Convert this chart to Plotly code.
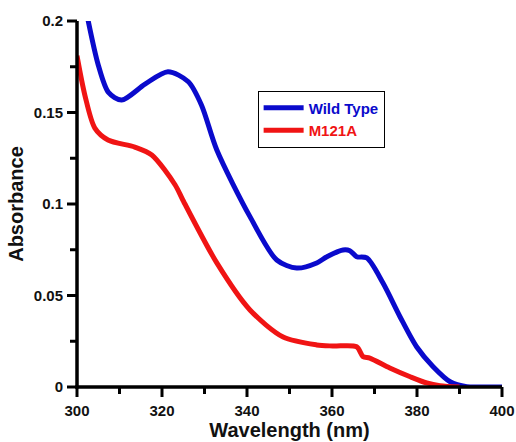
import plotly.graph_objects as go

# ---- data ----
wt_nm = [302.5, 305.0, 307.4, 310.5, 316.0, 321.4, 326.2, 329.3, 332.9, 340.7, 347.0,
         351.7, 356.4, 358.8, 362.6, 364.2, 365.8, 368.2, 372.0, 376.0, 379.9, 383.8,
         387.8, 391.7, 394.8, 400.0]
wt_abs = [0.2016, 0.176, 0.161, 0.1568, 0.1655, 0.1723, 0.1668, 0.154, 0.1295, 0.0931, 0.0694,
          0.065, 0.0678, 0.0712, 0.0749, 0.0745, 0.0712, 0.0705, 0.0568, 0.0384, 0.022, 0.0111,
          0.0029, 0.0002, 0.0, 0.0]

m_nm = [300.0, 301.9, 304.2, 307.3, 313.6, 317.6, 323.1, 324.9, 332.9, 340.7,
        348.5, 356.4, 360.2, 365.8, 367.3, 368.9, 373.6, 378.4, 382.3, 385.4, 390.0]
m_abs = [0.181, 0.159, 0.1415, 0.135, 0.1311, 0.1268, 0.1104, 0.1022, 0.0678, 0.0421,
         0.0273, 0.023, 0.0224, 0.022, 0.0166, 0.0158, 0.0104, 0.0056, 0.0022, 0.0007, 0.0]

x_range = [300, 400]
y_range = [0, 0.2]
x_major = [300, 320, 340, 360, 380, 400]
x_minor = [310, 330, 350, 370, 390]
y_major = [0, 0.05, 0.1, 0.15, 0.2]
y_labels = ["0", "0.05", "0.1", "0.15", "0.2"]
y_minor = [0.025, 0.075, 0.125, 0.175]

BLUE = "#0a0acc"
RED = "#f01414"
FONT = "Liberation Sans"
INK = "#111111"

W, H = 516, 442
M = dict(l=77, r=14, t=21, b=55)
PW = W - M["l"] - M["r"]
PH = H - M["t"] - M["b"]

fig = go.Figure()
fig.add_trace(go.Scatter(x=wt_nm, y=wt_abs, mode="lines",
                         name="<b><span style='color:%s'>Wild Type</span></b>" % BLUE,
                         line=dict(color=BLUE, width=5, shape="spline", smoothing=0.8)))
fig.add_trace(go.Scatter(x=m_nm, y=m_abs, mode="lines",
                         name="<b><span style='color:%s'>M121A</span></b>" % RED,
                         line=dict(color=RED, width=5, shape="spline", smoothing=0.8)))

tickfont = dict(family=FONT, size=15, color=INK, weight="bold")
titlefont = dict(family=FONT, size=20, color=INK, weight="bold")

common = dict(showline=False, ticks="outside", ticklen=10, tickwidth=3,
              tickcolor="rgba(0,0,0,0)", showgrid=False, zeroline=False,
              tickfont=tickfont, automargin=False)

fig.update_xaxes(range=x_range, tickvals=x_major,
                 title=dict(text="Wavelength (nm)", font=titlefont, standoff=2), **common)
fig.update_yaxes(range=y_range, tickvals=y_major, ticktext=y_labels,
                 title=dict(text="Absorbance", font=titlefont, standoff=4), **common)


def xfrac(v):
    return (v - x_range[0]) / (x_range[1] - x_range[0])


def yfrac(v):
    return (v - y_range[0]) / (y_range[1] - y_range[0])


# axis lines (drawn as shapes)
fig.add_shape(type="line", xref="paper", yref="paper", x0=-0.004, x1=1, y0=0, y1=0,
              line=dict(color="black", width=3.5))
fig.add_shape(type="line", xref="paper", yref="paper", x0=0, x1=0, y0=-0.004, y1=1,
              line=dict(color="black", width=3.5))
# tick marks at the axis' tick values
for vals, ln in ((x_major, 10), (x_minor, 7)):
    for v in vals:
        fig.add_shape(type="line", xref="paper", yref="paper",
                      x0=xfrac(v), x1=xfrac(v), y0=0, y1=-ln / PH,
                      line=dict(color="black", width=3))
for vals, ln in ((y_major, 10), (y_minor, 7)):
    for v in vals:
        fig.add_shape(type="line", xref="paper", yref="paper",
                      x0=0, x1=-ln / PW, y0=yfrac(v), y1=yfrac(v),
                      line=dict(color="black", width=3))

fig.update_layout(
    width=W, height=H,
    margin=M,
    paper_bgcolor="white", plot_bgcolor="white",
    legend=dict(x=0.425, y=0.81, xanchor="left", yanchor="top",
                bgcolor="white", bordercolor="black", borderwidth=1,
                font=dict(family=FONT, size=15), tracegroupgap=0, itemwidth=40),
)

fig.write_html("out.html", config={"displayModeBar": False},
               post_script="document.body.style.margin='0';")
